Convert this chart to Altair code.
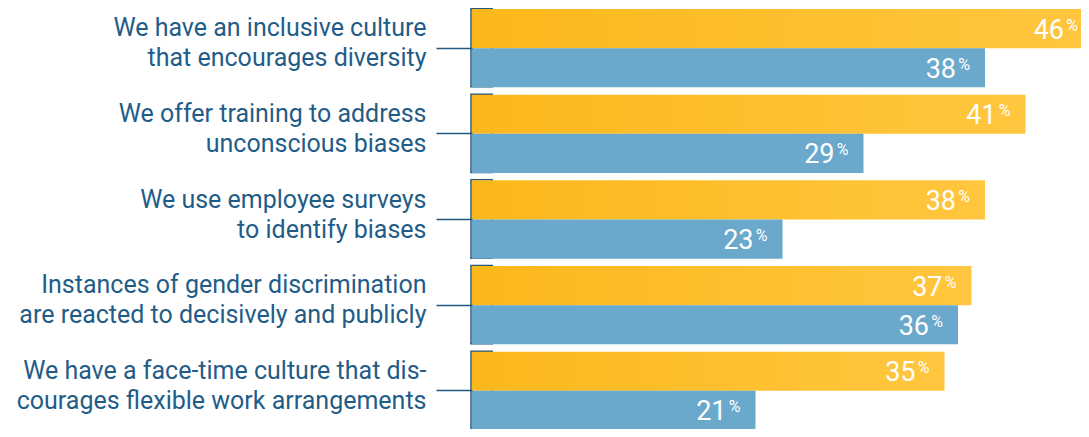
import altair as alt
import pandas as pd

categories = [
    "We have an inclusive culture|that encourages diversity",
    "We offer training to address|unconscious biases",
    "We use employee surveys|to identify biases",
    "Instances of gender discrimination|are reacted to decisively and publicly",
    "We have a face-time culture that dis-|courages flexible work arrangements",
]
series = ["A", "B"]
values_a = [46, 41, 38, 37, 35]
values_b = [38, 29, 23, 36, 21]

rows = []
for c, a, b in zip(categories, values_a, values_b):
    rows.append({"cat": c, "series": "A", "value": a})
    rows.append({"cat": c, "series": "B", "value": b})
df = pd.DataFrame(rows)
brackets = pd.DataFrame({"cat": categories, "x0": [0] * 5, "x1": [1.5] * 5})

TEXT = "#1f5d88"
LINE = "#24587d"
YELLOW_L = "#FBB81B"
YELLOW_R = "#FFC63F"
BLUE = "#6AA9CB"

PLOT_W = 609

y_enc = alt.Y(
    "cat:N",
    sort=categories,
    scale=alt.Scale(paddingInner=0.086, paddingOuter=0, range=[0, 421]),
    axis=alt.Axis(
        title=None,
        domain=False,
        ticks=True,
        tickSize=36,
        tickColor=LINE,
        tickWidth=1.5,
        labelPadding=10,
        labelExpr="split(datum.value, '|')",
        labelFont="Roboto",
        labelFontSize=25,
        labelColor=TEXT,
        labelLineHeight=30,
        labelLimit=460,
        labelAlign="right",
        labelBaseline="alphabetic",
        labelOffset=-12,
    ),
)
x_scale = alt.Scale(domain=[0, PLOT_W / 13.5], nice=False, zero=True)
x_enc = alt.X("value:Q", scale=x_scale, axis=None)
yoff = alt.YOffset("series:N", scale=alt.Scale(domain=series, paddingInner=0, paddingOuter=0))

bracket = alt.Chart(brackets).mark_rect(
    fill=None, fillOpacity=0, stroke=LINE, strokeWidth=1.5,
    xOffset=-1, yOffset=-0.5, y2Offset=0.5,
).encode(
    y=y_enc,
    x=alt.X("x0:Q", scale=x_scale, axis=None),
    x2="x1:Q",
)

grad = alt.Gradient(
    gradient="linear",
    stops=[alt.GradientStop(color=YELLOW_L, offset=0), alt.GradientStop(color=YELLOW_R, offset=1)],
    x1=0, x2=1, y1=0, y2=0,
)

bars_a = alt.Chart(df).transform_filter("datum.series == 'A'").mark_bar(
    color=grad, cornerRadius=0
).encode(y=y_enc, x=x_enc, yOffset=yoff)

bars_b = alt.Chart(df).transform_filter("datum.series == 'B'").mark_bar(
    color=BLUE, cornerRadius=0
).encode(y=y_enc, x=x_enc, yOffset=yoff)

nums = alt.Chart(df).mark_text(
    align="right", baseline="alphabetic", dx=-29, dy=10,
    font="Roboto", fontSize=27, color="white",
).encode(y=y_enc, x=x_enc, yOffset=yoff, text=alt.Text("value:Q"))

pct = alt.Chart(df).mark_text(
    align="right", baseline="alphabetic", dx=-15, dy=2,
    font="Roboto", fontSize=16, color="white", text="%",
).encode(y=y_enc, x=x_enc, yOffset=yoff)

chart = alt.layer(bracket, bars_a, bars_b, nums, pct).properties(
    width=PLOT_W, height=420,
    autosize=alt.AutoSizeParams(type="none"),
    padding={"left": 464, "top": 1, "right": 0, "bottom": 0},
).configure_view(stroke=None)

chart.save("out.html", embed_options={"renderer": "svg", "actions": False})
